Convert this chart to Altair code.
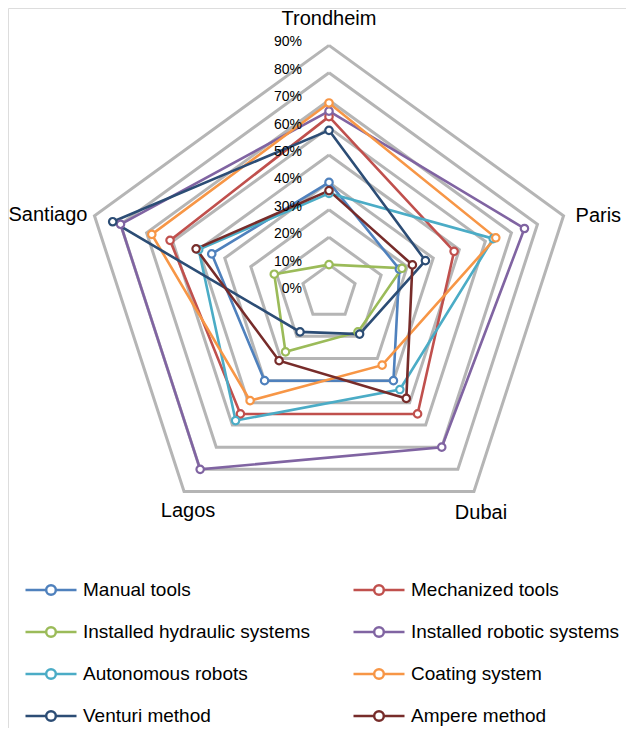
import altair as alt
import pandas as pd

# ---------------- data ----------------
categories = ["Trondheim", "Paris", "Dubai", "Lagos", "Santiago"]

series_names = [
    "Manual tools",
    "Mechanized tools",
    "Installed hydraulic systems",
    "Installed robotic systems",
    "Autonomous robots",
    "Coating system",
    "Venturi method",
    "Ampere method",
]

manual_tools = [40, 27, 40, 40, 45]
mechanized_tools = [64, 48, 55, 55, 61]
installed_hydraulic = [10, 28, 18, 27, 21]
installed_robotic = [66, 75, 70, 80, 80]
autonomous_robots = [36, 63, 44, 58, 50]
coating_system = [69, 64, 33, 49, 68]
venturi_method = [59, 37, 19, 18, 83]
ampere_method = [37, 32, 48, 31, 51]

series_values = [
    manual_tools, mechanized_tools, installed_hydraulic, installed_robotic,
    autonomous_robots, coating_system, venturi_method, ampere_method,
]

ring_values = [0, 10, 20, 30, 40, 50, 60, 70, 80, 90]
ring_labels = ["0%", "10%", "20%", "30%", "40%", "50%", "60%", "70%", "80%", "90%"]

colors = ["#4F81BD", "#C0504D", "#9BBB59", "#8064A2",
          "#4BACC6", "#F79646", "#2C4D75", "#772C2A"]

# ---------------- tables ----------------
n = len(categories)
rows = []
for name, vals in zip(series_names, series_values):
    for i in range(n + 1):
        rows.append({"series": name, "idx": i, "cat": categories[i % n], "value": vals[i % n]})
series_df = pd.DataFrame(rows)

grid_rows = []
for r in ring_values[1:]:
    for i in range(n + 1):
        grid_rows.append({"ring": r, "idx": i, "value": r})
grid_df = pd.DataFrame(grid_rows)

ring_lab_df = pd.DataFrame({"idx": [0] * len(ring_values), "value": ring_values, "label": ring_labels})

outer = max(ring_values)

# ---------------- scales ----------------
xs = alt.Scale(domain=[-117.15, 108.39], nice=False, zero=False)
ys = alt.Scale(domain=[-159.12, 103.65], nice=False, zero=False)


def polar(chart):
    return chart.transform_calculate(
        ang="datum.idx * 2 * PI / 5"
    ).transform_calculate(
        px="datum.value * sin(datum.ang)",
        py="datum.value * cos(datum.ang)",
    )


X = alt.X("px:Q", scale=xs, axis=None)
Y = alt.Y("py:Q", scale=ys, axis=None)

grid = polar(alt.Chart(grid_df)).mark_line(
    color="#B5B5B5", strokeWidth=3, strokeJoin="miter"
).encode(x=X, y=Y, detail="ring:N", order="idx:Q")

sym_path = ("M-1,0H-0.19M0.19,0H1"
            "M0.19,0A0.19,0.19,0,1,1,-0.19,0A0.19,0.19,0,1,1,0.19,0")

stroke = alt.Stroke(
    "series:N",
    scale=alt.Scale(domain=series_names, range=colors),
    legend=alt.Legend(
        title=None,
        orient="none",
        direction="horizontal",
        legendX=16,
        legendY=555,
        columns=2,
        columnPadding=37,
        rowPadding=5,
        symbolType=sym_path,
        symbolSize=2601,
        symbolStrokeWidth=2.5,
        labelFontSize=19,
        labelFont="Liberation Sans",
        labelColor="#000000",
        labelLimit=400,
        labelOffset=5,
        padding=0,
    ),
)

lines = polar(alt.Chart(series_df)).mark_line(strokeWidth=2.6).encode(
    x=X, y=Y, stroke=stroke, order="idx:Q"
)

points = polar(alt.Chart(series_df)).transform_filter("datum.idx < 5").mark_point(
    shape="circle", filled=True, fill="white", size=55, strokeWidth=2.2, opacity=1
).encode(x=X, y=Y, stroke=stroke)

ring_text = polar(alt.Chart(ring_lab_df)).mark_text(
    align="right", baseline="middle", dx=-27, dy=-3,
    font="Liberation Sans Narrow, Liberation Sans", fontSize=14, color="#000000"
).encode(x=X, y=Y, text="label:N")

label_style = {
    "Trondheim": dict(align="center", baseline="middle", dx=0, dy=-26),
    "Paris": dict(align="left", baseline="middle", dx=12, dy=0),
    "Dubai": dict(align="center", baseline="middle", dx=7, dy=21),
    "Lagos": dict(align="center", baseline="middle", dx=4, dy=19),
    "Santiago": dict(align="right", baseline="middle", dx=-7, dy=-1),
}

cat_layers = []
for i, c in enumerate(categories):
    df = pd.DataFrame({"idx": [i], "value": [outer], "cat": [c]})
    cat_layers.append(
        polar(alt.Chart(df)).mark_text(
            font="Liberation Sans", fontSize=20, color="#000000", **label_style[c]
        ).encode(x=X, y=Y, text="cat:N")
    )

chart = alt.layer(grid, lines, points, ring_text, *cat_layers).properties(
    width=618, height=720, autosize="none", padding=0
).configure_view(stroke=None).configure(background="white")

chart.save("out.html", embed_options={"renderer": "svg", "actions": False})
